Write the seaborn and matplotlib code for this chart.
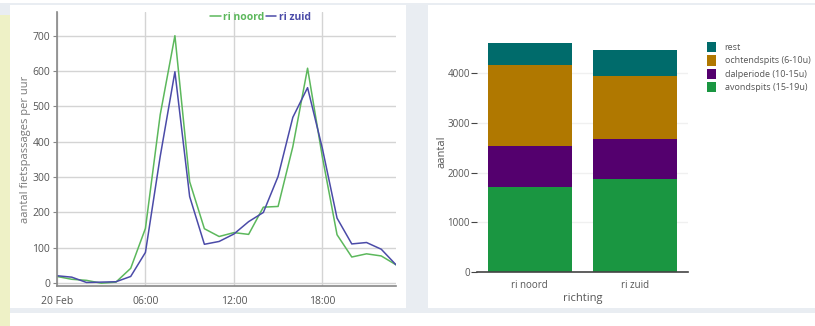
import numpy as np
import pandas as pd
import matplotlib.pyplot as plt
import seaborn as sns
from matplotlib.patches import Rectangle

# data: hourly bike counts on 20 Feb
hours = list(range(24))
ri_noord = [19, 11, 8, 0, 3, 42, 155, 476, 700, 287, 154, 132, 143, 138, 215, 217,
            386, 608, 358, 137, 74, 83, 77, 52]
ri_zuid = [21, 17, 2, 3, 4, 19, 87, 358, 598, 245, 110, 118, 139, 174, 200, 302,
           469, 553, 382, 184, 111, 115, 96, 52]
hour_ticks = [0, 6, 12, 18]
hour_labels = ['20 Feb', '06:00', '12:00', '18:00']

# data: totals per period per direction
richting = ['ri noord', 'ri zuid']
avondspits = [1709, 1869]
dalperiode = [824, 798]
ochtendspits = [1635, 1273]
rest = [435, 516]

sns.set_theme(style='white')
plt.rcParams['font.family'] = ['Open Sans', 'DejaVu Sans']

fig = plt.figure(figsize=(8.15, 3.26), dpi=100)
fig.patch.set_facecolor('white')

W, H = 815, 326
def box(x0, y0, x1, y1, color):
    fig.add_artist(Rectangle((x0 / W, 1 - y1 / H), (x1 - x0) / W, (y1 - y0) / H,
                             transform=fig.transFigure, facecolor=color,
                             edgecolor='none', zorder=-10))

# page background / cards
box(0, 3, 815, 313, '#e9edf2')
box(0, 15, 10, 326, '#eef1c6')
box(10, 5, 406, 308, 'white')
box(428, 5, 815, 308, 'white')

# ---------- left: line chart
green = '#5cb85c'
blue = '#4b4ba8'
df_line = pd.DataFrame({'uur': hours * 2,
                        'aantal': ri_noord + ri_zuid,
                        'richting': ['ri noord'] * 24 + ['ri zuid'] * 24})

ax1 = fig.add_axes([57 / W, 1 - 286 / H, (396 - 57) / W, (286 - 12) / H])
ax1.set_facecolor('none')
sns.lineplot(data=df_line, x='uur', y='aantal', hue='richting',
             palette=[green, blue], linewidth=1.1, ax=ax1)
ax1.set_xlim(0, 23)
ax1.set_ylim(-8, 767)
ax1.set_yticks(range(0, 701, 100))
ax1.set_xticks(hour_ticks)
ax1.set_xticklabels(hour_labels)
ax1.grid(True, color='#d4d4d4', linewidth=1)
ax1.set_axisbelow(True)
for s in ['top', 'right']:
    ax1.spines[s].set_visible(False)
ax1.spines['left'].set_color('#888888')
ax1.spines['bottom'].set_color('#888888')
ax1.spines['left'].set_linewidth(1.2)
ax1.spines['bottom'].set_linewidth(1.2)
ax1.tick_params(axis='y', left=True, length=3, width=0.8, color='#888888',
                labelsize=7.5, labelcolor='#555555', pad=2)
ax1.tick_params(axis='x', bottom=False, labelsize=7.5, labelcolor='#555555', pad=1)
ax1.set_xlabel('')
ax1.set_ylabel('aantal fietspassages per uur', fontsize=8, color='#777777', labelpad=1)
leg = ax1.legend(loc='center', bbox_to_anchor=(0.6, 0.98), ncol=2, frameon=False,
                 handlelength=1.0, handletextpad=0.2, columnspacing=0.2,
                 labelcolor='linecolor', prop={'weight': 'bold', 'size': 7.5})

# ---------- right: stacked bar chart
c_rest = '#006b6b'
c_ocht = '#b07800'
c_dal = '#54006e'
c_avond = '#1a9641'

df_bar = pd.DataFrame({'richting': richting, 'avondspits': avondspits,
                       'dalperiode': dalperiode, 'ochtendspits': ochtendspits,
                       'rest': rest})
df_bar['c1'] = df_bar['avondspits']
df_bar['c2'] = df_bar['c1'] + df_bar['dalperiode']
df_bar['c3'] = df_bar['c2'] + df_bar['ochtendspits']
df_bar['c4'] = df_bar['c3'] + df_bar['rest']

ax2 = fig.add_axes([477 / W, 1 - 272 / H, (688 - 477) / W, (272 - 31) / H])
ax2.set_facecolor('none')
layers = [('c4', c_rest, 'rest'), ('c3', c_ocht, 'ochtendspits (6-10u)'),
          ('c2', c_dal, 'dalperiode (10-15u)'), ('c1', c_avond, 'avondspits (15-19u)')]
for col, colr, lab in layers:
    sns.barplot(data=df_bar, x='richting', y=col, color=colr, width=0.8,
                saturation=1, label=lab, edgecolor='none', ax=ax2)
ax2.set_xlim(-0.5, 1.5)
ax2.set_ylim(0, 4845)
ax2.set_yticks(range(0, 4001, 1000))
ax2.grid(axis='y', color='#f0f0f0', linewidth=1)
ax2.set_axisbelow(True)
for s in ['top', 'right', 'left']:
    ax2.spines[s].set_visible(False)
ax2.spines['bottom'].set_color('#444444')
ax2.spines['bottom'].set_linewidth(1.2)
ax2.tick_params(axis='y', left=True, length=4, width=0.8, color='#444444',
                labelsize=7, labelcolor='#555555', pad=1)
ax2.tick_params(axis='x', bottom=False, labelsize=7, labelcolor='#555555', pad=0)
ax2.set_xlabel('richting', fontsize=8, color='#555555', labelpad=1)
ax2.set_ylabel('aantal', fontsize=8, color='#555555', labelpad=0)
h, l = ax2.get_legend_handles_labels()
ax2.legend(h, l, loc='upper left', bbox_to_anchor=(699 / W, 1 - 34 / H),
           bbox_transform=fig.transFigure, frameon=False, fontsize=6.5,
           labelcolor='#555555', handlelength=0.95, handleheight=1.35,
           handletextpad=1.0, labelspacing=0.35)

fig.savefig('out.png', dpi=100)
